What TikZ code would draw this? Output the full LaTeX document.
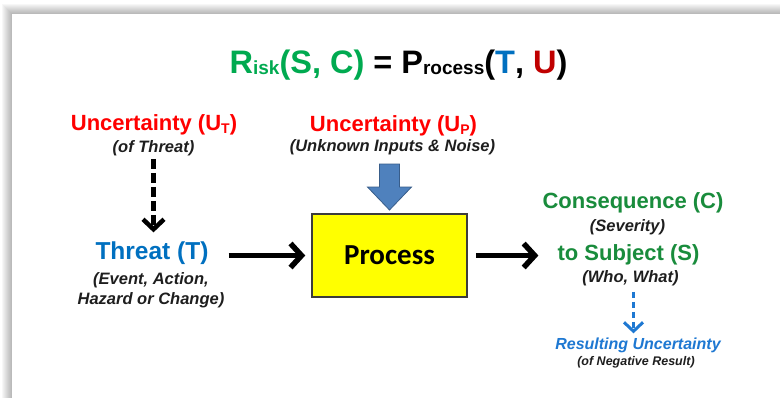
\documentclass[tikz,border=0pt]{standalone}
\usepackage{fontspec}
\setmainfont{Liberation Sans}
\newfontfamily\calibrifont{Carlito}
\usetikzlibrary{arrows.meta}
\definecolor{tgreen}{RGB}{0,170,80}
\definecolor{cgreen}{RGB}{25,140,60}
\definecolor{tblue}{RGB}{0,112,192}
\definecolor{ured}{RGB}{255,0,0}
\definecolor{dred}{RGB}{192,0,0}
\definecolor{subgrey}{RGB}{30,30,30}
\definecolor{arrowblue}{RGB}{79,129,189}
\definecolor{arrowedge}{RGB}{56,93,138}
\definecolor{dblue}{RGB}{30,120,210}
\definecolor{boxyellow}{RGB}{255,255,0}
\definecolor{boxedge}{RGB}{60,60,60}
\tikzset{
  lbl/.style={inner sep=1pt, align=center},
  headtxt/.style={lbl, font=\fontsize{22}{25}\selectfont\bfseries},
  subtxt/.style={lbl, text=subgrey, font=\fontsize{16.5}{20}\selectfont\bfseries\itshape},
  bigarrow/.style={line width=5.5pt, -{Straight Barb[length=11pt,width=24pt]}},
  blackdash/.style={line width=4.5pt, dash pattern=on 10pt off 4pt, -{Straight Barb[length=10pt,width=21pt]}},
  bluedash/.style={line width=3pt, draw=dblue, dash pattern=on 6pt off 4pt, -{Straight Barb[length=9pt,width=19pt]}},
  procbox/.style={draw=boxedge, line width=1.5pt, fill=boxyellow, minimum width=155pt, minimum height=83pt, font=\calibrifont\bfseries\fontsize{29}{32}\selectfont}
}
\begin{document}
\begin{tikzpicture}[x=1pt,y=-1pt]
\useasboundingbox (0,0) rectangle (780,397);
% panel with soft shadow
\foreach \i in {1,...,10} {\fill[black,opacity=0.03] (12-\i,14-\i) rectangle (800,420);}
\fill[white] (12,14) rectangle (800,420);

% title
\node[lbl, font=\fontsize{32.5}{36}\selectfont\bfseries] (title) at (398.5,65)
  {\textcolor{tgreen}{R\raisebox{-1.5pt}{\fontsize{19}{20}\selectfont isk}(S, C)} = P\raisebox{-1.5pt}{\fontsize{19}{20}\selectfont rocess}(\textcolor{tblue}{T}, \textcolor{dred}{U})};

% left column
\node[headtxt, text=ured] (ut) at (154,125) {Uncertainty (U\raisebox{-3pt}{\fontsize{14}{15}\selectfont T})};
\node[subtxt] (utsub) at (153.5,148) {(of Threat)};
\node[lbl, text=tblue, font=\fontsize{24.5}{28}\selectfont\bfseries] (threat) at (152,253) {Threat (T)};
\node[subtxt] (threatsub) at (151,290) {(Event, Action,\\Hazard or Change)};

% middle
\node[headtxt, text=ured] (up) at (393.5,126) {Uncertainty (U\raisebox{-3pt}{\fontsize{14}{15}\selectfont P})};
\node[subtxt] (upsub) at (392.5,147) {(Unknown Inputs \& Noise)};
\node[procbox] (proc) at (389.5,255.5) {Process};

% right column
\node[headtxt, text=cgreen] (cons) at (633,203) {Consequence (C)};
\node[subtxt] (sev) at (627.5,227) {(Severity)};
\node[headtxt, text=cgreen] (subj) at (628.5,255) {to Subject (S)};
\node[subtxt] (who) at (630.5,278) {(Who, What)};
\node[lbl, text=dblue, font=\fontsize{16}{19}\selectfont\bfseries\itshape] (res) at (638,345) {Resulting Uncertainty};
\node[lbl, text=subgrey, font=\fontsize{12.5}{14}\selectfont\bfseries\itshape] (neg) at (636,362) {(of Negative Result)};

% connectors
\draw[blackdash, shorten <=2pt, shorten >=8pt] (utsub.south) -- (utsub.south |- threat.north);
\draw[bigarrow, shorten <=19pt, shorten >=6pt] (threat.east |- proc.west) -- (proc.west);
\draw[bigarrow, shorten <=8pt, shorten >=18pt] (proc.east) -- (proc.east -| subj.west);
\draw[bluedash, shorten <=5pt, shorten >=3pt] ([xshift=3pt]who.south) -- ([xshift=3pt]who.south |- res.north);

% block arrow from U_P into the process
\coordinate (ba) at (proc.north |- 0,164);
\fill[arrowblue, draw=arrowedge, line width=0.8pt]
  ([xshift=-10pt]ba) -- ([xshift=10pt]ba) -- ([xshift=10pt,yshift=-23pt]ba) -- ([xshift=22pt,yshift=-23pt]ba)
  -- ([yshift=-46pt]ba) -- ([xshift=-22pt,yshift=-23pt]ba) -- ([xshift=-10pt,yshift=-23pt]ba) -- cycle;
\end{tikzpicture}
\end{document}
